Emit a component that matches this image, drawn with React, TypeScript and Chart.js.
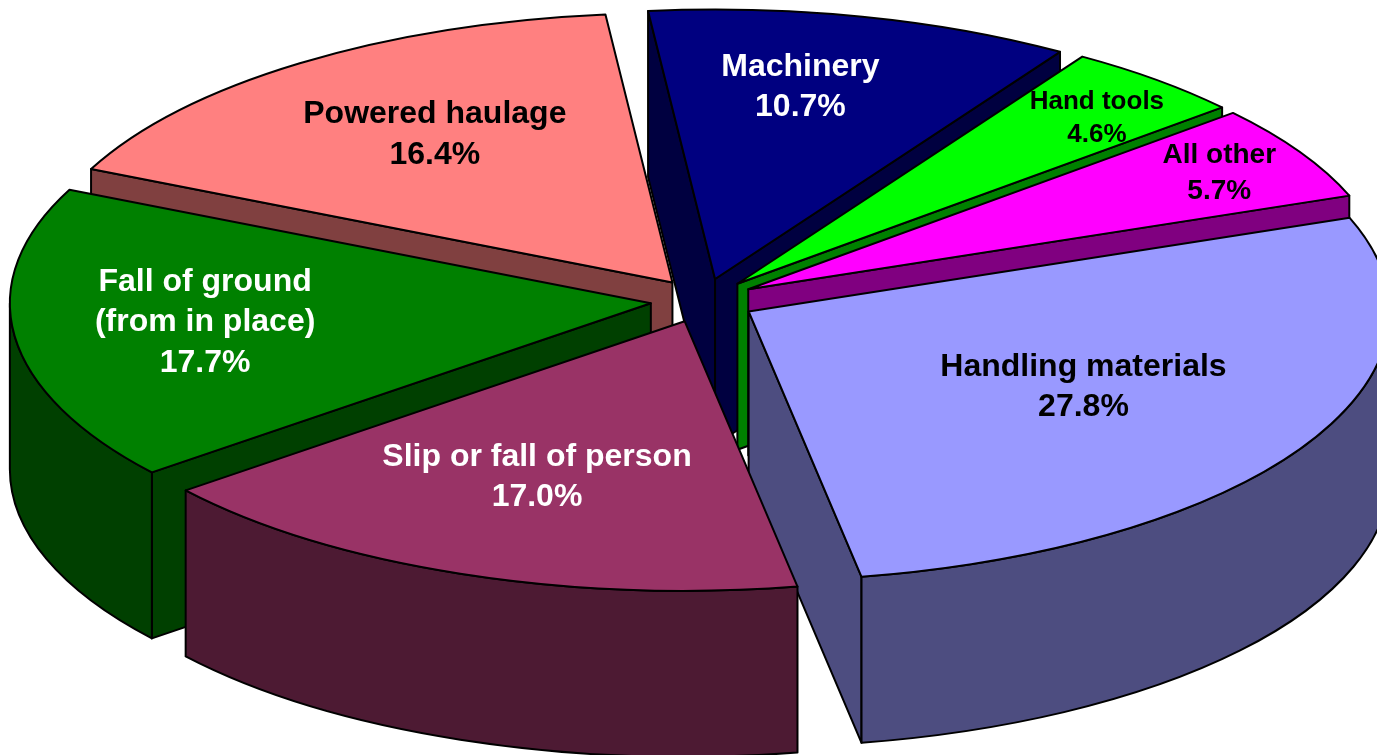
import React, { useEffect, useRef } from "react";
import { Chart, registerables } from "chart.js";

Chart.register(...registerables);

// ---- data ----
const categories = [
  "Machinery",
  "Hand tools",
  "All other",
  "Handling materials",
  "Slip or fall of person",
  "Fall of ground\n(from in place)",
  "Powered haulage",
];
const shares = [10.7, 4.6, 5.7, 27.8, 17.0, 17.7, 16.4];

// ---- styles ----
const topColors = ["#000080", "#00FF00", "#FF00FF", "#9999FF", "#993366", "#008000", "#FF8080"];
const sideColors = ["#000040", "#008000", "#800080", "#4D4D80", "#4D1A33", "#004000", "#804040"];
const labelColors = ["#FFFFFF", "#000000", "#000000", "#000000", "#FFFFFF", "#FFFFFF", "#000000"];
const labelSizes = [32, 26, 28, 32, 32, 32, 32];
const labelNudges: [number, number][] = [
  [-3, -37],
  [108, -45],
  [140, -36],
  [1, -7],
  [-13, 2],
  [-64, -3],
  [-14, -19],
];

const TILT_X = 2.133;
const TILT_Y = 0.897;
const EXPLODE = 0.082;
const DEPTH = 166;
const LABEL_R = 0.6;
const FONT = "'Liberation Sans', Arial, Helvetica, sans-serif";

const pie3d = {
  id: "pie3d",
  beforeDatasetsDraw(chart: any) {
    const meta = chart.getDatasetMeta(0);
    const ctx: CanvasRenderingContext2D = chart.ctx;
    const arcs = meta.data as any[];
    const slices = arcs.map((arc: any, i: number) => {
      const p = arc.getProps(["x", "y", "startAngle", "endAngle", "outerRadius"], true);
      const rx = p.outerRadius * TILT_X;
      const ry = p.outerRadius * TILT_Y;
      const mid = (p.startAngle + p.endAngle) / 2;
      const cx = p.x + EXPLODE * rx * Math.cos(mid);
      const cy = p.y + EXPLODE * ry * Math.sin(mid);
      return { i, s: p.startAngle, e: p.endAngle, mid, cx, cy, rx, ry };
    });
    const order = [...slices].sort((a, b) => Math.sin(a.mid) - Math.sin(b.mid));

    ctx.save();
    ctx.lineWidth = 2;
    ctx.strokeStyle = "#000000";
    ctx.lineJoin = "round";

    for (const sl of order) {
      const { cx, cy, rx, ry, s, e, i } = sl;
      const px = (t: number) => cx + rx * Math.cos(t);
      const py = (t: number) => cy + ry * Math.sin(t);
      const side = sideColors[i];
      const poly = (pts: number[][]) => {
        ctx.beginPath();
        ctx.moveTo(pts[0][0], pts[0][1]);
        for (let k = 1; k < pts.length; k++) ctx.lineTo(pts[k][0], pts[k][1]);
        ctx.closePath();
        ctx.fillStyle = side;
        ctx.fill();
        ctx.stroke();
      };
      // radial faces
      if (Math.cos(s) < 0) {
        poly([[cx, cy], [px(s), py(s)], [px(s), py(s) + DEPTH], [cx, cy + DEPTH]]);
      }
      if (Math.cos(e) > 0) {
        poly([[cx, cy], [px(e), py(e)], [px(e), py(e) + DEPTH], [cx, cy + DEPTH]]);
      }
      // outer wall (front half)
      for (let k = -1; k <= 1; k++) {
        const lo = Math.max(s, 2 * k * Math.PI);
        const hi = Math.min(e, (2 * k + 1) * Math.PI);
        if (hi > lo) {
          ctx.beginPath();
          ctx.ellipse(cx, cy, rx, ry, 0, lo, hi, false);
          ctx.lineTo(px(hi), py(hi) + DEPTH);
          ctx.ellipse(cx, cy + DEPTH, rx, ry, 0, hi, lo, true);
          ctx.closePath();
          ctx.fillStyle = side;
          ctx.fill();
          ctx.stroke();
        }
      }
      // top face
      ctx.beginPath();
      ctx.moveTo(cx, cy);
      ctx.ellipse(cx, cy, rx, ry, 0, s, e, false);
      ctx.closePath();
      ctx.fillStyle = topColors[i];
      ctx.fill();
      ctx.stroke();
    }

    // labels
    const values = chart.data.datasets[0].data as number[];
    for (const sl of slices) {
      const { cx, cy, rx, ry, mid, i } = sl;
      const fs = labelSizes[i];
      const lh = fs * 1.26;
      const ax = cx + LABEL_R * rx * Math.cos(mid) + labelNudges[i][0];
      const ay = cy + LABEL_R * ry * Math.sin(mid) + labelNudges[i][1];
      const lines = String(chart.data.labels[i]).split("\n");
      lines.push(values[i].toFixed(1) + "%");
      ctx.font = `bold ${fs}px ${FONT}`;
      ctx.fillStyle = labelColors[i];
      ctx.textAlign = "center";
      ctx.textBaseline = "alphabetic";
      const n = lines.length;
      lines.forEach((ln, k) => {
        const by = ay + (k - (n - 1) / 2) * lh + fs * 0.716 / 2;
        ctx.fillText(ln, ax, by);
      });
    }
    ctx.restore();
    return false;
  },
};

export default function App() {
  const ref = useRef<HTMLCanvasElement | null>(null);
  useEffect(() => {
    if (!ref.current) return;
    const chart = new Chart(ref.current, {
      type: "pie",
      data: {
        labels: categories,
        datasets: [
          {
            data: shares,
            backgroundColor: topColors,
            borderWidth: 0,
            hoverBorderWidth: 0,
            offset: 0,
            hoverOffset: 0,
            rotation: -6,
          } as any,
        ],
      },
      options: {
        responsive: false,
        animation: false,
        events: [],
        layout: { padding: { left: 29, right: 0, top: 0, bottom: 154 } },
        plugins: {
          legend: { display: false },
          tooltip: { enabled: false },
          title: { display: false },
        },
      },
      plugins: [pie3d as any],
    });
    return () => chart.destroy();
  }, []);
  return (
    <div style={{ position: "absolute", left: 0, top: 0, width: 1377, height: 755, background: "#FFFFFF" }}>
      <canvas ref={ref} width={1377} height={755} style={{ display: "block" }} />
    </div>
  );
}
